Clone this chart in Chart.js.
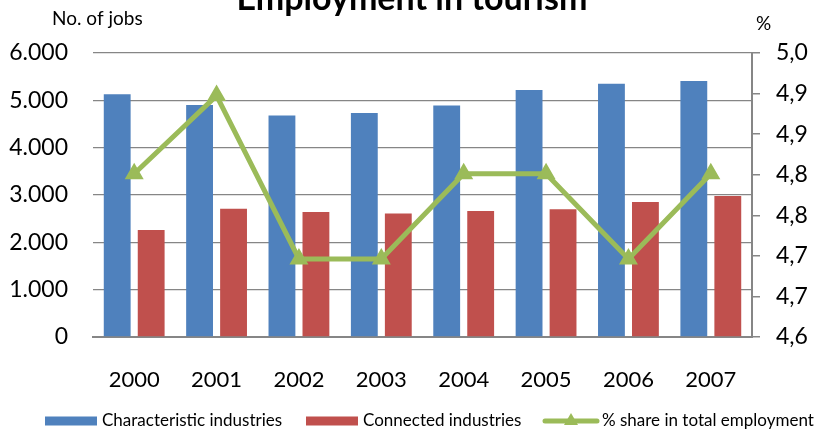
<!DOCTYPE html>
<html>
<head>
<meta charset="utf-8">
<title>Employment in tourism</title>
<script src="https://cdn.jsdelivr.net/npm/chart.js@4.4.1/dist/chart.umd.min.js"></script>
<style>
  html, body { margin: 0; padding: 0; background: #ffffff; }
  #wrap { width: 820px; height: 432px; position: relative; }
</style>
</head>
<body>
<div id="wrap"><canvas id="chart" width="820" height="432"></canvas></div>
<script>
// Employment in tourism, 2000-2007
const years = ['2000', '2001', '2002', '2003', '2004', '2005', '2006', '2007'];
const characteristicJobs = [5130, 4900, 4680, 4730, 4890, 5220, 5350, 5410];
const connectedJobs = [2260, 2710, 2640, 2610, 2660, 2700, 2850, 2980];
const shareOfTotal = [4.83, 4.94, 4.71, 4.71, 4.83, 4.83, 4.71, 4.83];

const jobsTickLabels = ['0', '1.000', '2.000', '3.000', '4.000', '5.000', '6.000'];
const pctTickLabels = ['4,6', '4,7', '4,7', '4,8', '4,8', '4,9', '4,9', '5,0'];
const jobsRange = [0, 6000];
const pctRange = [4.6, 5.0];

const seriesNames = ['Characteristic industries', 'Connected industries', '% share in total employment'];
const chartTitle = 'Employment in tourism';
const leftAxisTitle = 'No. of jobs';
const rightAxisTitle = '%';

const BLUE = '#4F81BD';
const RED = '#C0504D';
const GREEN = '#9BBB59';
const GRID = '#868686';
const FONT = 'Lato, "Open Sans", sans-serif';

function evenTicks(range, labels) {
  const n = labels.length;
  return labels.map((_, i) => ({ value: range[0] + i * (range[1] - range[0]) / (n - 1) }));
}

// Title, axis captions and the legend row
const decorations = {
  id: 'decorations',
  afterDraw(chart) {
    const ctx = chart.ctx;
    ctx.save();
    ctx.fillStyle = '#000000';

    ctx.font = 'bold 34px ' + FONT;
    ctx.textAlign = 'center';
    ctx.textBaseline = 'alphabetic';
    ctx.fillText(chartTitle, 412, 10);

    ctx.font = '19px ' + FONT;
    ctx.textAlign = 'left';
    ctx.fillText(leftAxisTitle, 52, 25);
    ctx.fillText(rightAxisTitle, 756, 30);

    const ly = 421;
    ctx.textBaseline = 'middle';
    ctx.font = '17px ' + FONT;

    ctx.fillStyle = BLUE;
    ctx.fillRect(45, ly - 4.5, 52, 9);
    ctx.fillStyle = '#000000';
    ctx.fillText(seriesNames[0], 102, ly);

    ctx.fillStyle = RED;
    ctx.fillRect(306, ly - 4.5, 52, 9);
    ctx.fillStyle = '#000000';
    ctx.fillText(seriesNames[1], 363, ly);

    ctx.strokeStyle = GREEN;
    ctx.lineWidth = 5;
    ctx.lineCap = 'round';
    ctx.beginPath();
    ctx.moveTo(545, ly);
    ctx.lineTo(597, ly);
    ctx.stroke();
    ctx.fillStyle = GREEN;
    ctx.beginPath();
    ctx.moveTo(571, ly - 8);
    ctx.lineTo(578, ly + 4);
    ctx.lineTo(564, ly + 4);
    ctx.closePath();
    ctx.fill();
    ctx.fillStyle = '#000000';
    ctx.fillText(seriesNames[2], 602, ly);

    ctx.restore();
  }
};

new Chart(document.getElementById('chart'), {
  type: 'bar',
  data: {
    labels: years,
    datasets: [
      {
        type: 'line',
        label: seriesNames[2],
        data: shareOfTotal,
        yAxisID: 'y1',
        order: 0,
        borderColor: GREEN,
        backgroundColor: GREEN,
        borderWidth: 5,
        pointStyle: 'triangle',
        pointRadius: 9,
        pointBorderWidth: 2,
        pointBackgroundColor: GREEN,
        pointBorderColor: GREEN,
        tension: 0
      },
      {
        label: seriesNames[0],
        data: characteristicJobs,
        yAxisID: 'y',
        order: 1,
        backgroundColor: BLUE,
        borderWidth: 0,
        categoryPercentage: 0.825,
        barPercentage: 0.79
      },
      {
        label: seriesNames[1],
        data: connectedJobs,
        yAxisID: 'y',
        order: 1,
        backgroundColor: RED,
        borderWidth: 0,
        categoryPercentage: 0.825,
        barPercentage: 0.79
      }
    ]
  },
  options: {
    responsive: false,
    animation: false,
    devicePixelRatio: 1,
    layout: { padding: { top: 53, left: 0, right: 0, bottom: 0 } },
    plugins: {
      legend: { display: false },
      title: { display: false },
      tooltip: { enabled: false }
    },
    scales: {
      x: {
        grid: { display: false, drawTicks: false },
        border: { display: true, color: GRID, width: 2 },
        ticks: { color: '#000000', font: { family: FONT, size: 22 }, padding: 30, maxRotation: 0 },
        afterFit(scale) { scale.height = 95; }
      },
      y: {
        position: 'left',
        min: jobsRange[0],
        max: jobsRange[1],
        grid: { color: GRID, lineWidth: 1.3, drawTicks: false },
        border: { display: false },
        ticks: {
          color: '#000000',
          font: { family: FONT, size: 23 },
          padding: 25,
          callback: (v, i) => jobsTickLabels[i]
        },
        afterBuildTicks(scale) { scale.ticks = evenTicks(jobsRange, jobsTickLabels); },
        afterFit(scale) { scale.width = 93; }
      },
      y1: {
        position: 'right',
        min: pctRange[0],
        max: pctRange[1],
        grid: { drawOnChartArea: false, drawTicks: true, tickLength: 8, color: GRID, lineWidth: 1.5 },
        border: { display: true, color: GRID, width: 2 },
        ticks: {
          color: '#000000',
          font: { family: FONT, size: 23 },
          padding: 16,
          callback: (v, i) => pctTickLabels[i]
        },
        afterBuildTicks(scale) { scale.ticks = evenTicks(pctRange, pctTickLabels); },
        afterFit(scale) { scale.width = 68; }
      }
    }
  },
  plugins: [decorations]
});
</script>
</body>
</html>
